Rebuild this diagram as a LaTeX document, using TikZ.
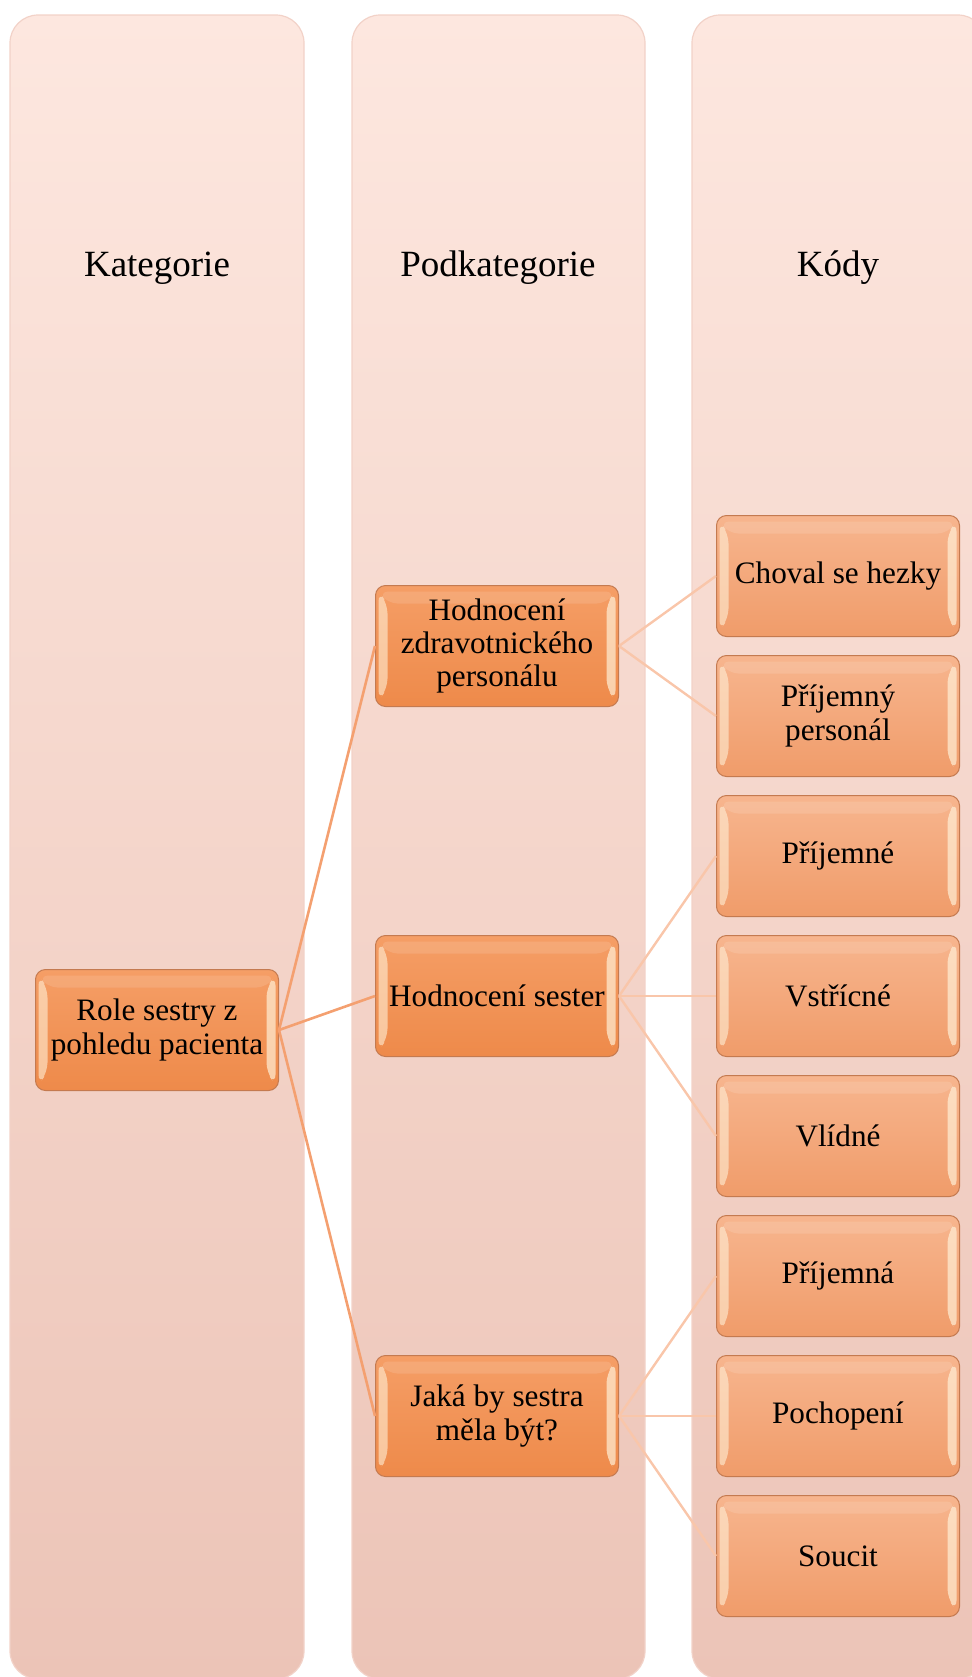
\documentclass[tikz,border=0pt]{standalone}
\usepackage{fontspec}
\setmainfont{Liberation Serif}
\definecolor{coltop}{HTML}{FDE7DF}
\definecolor{colbot}{HTML}{ECC4B7}
\definecolor{colline}{HTML}{F2D2C8}
\definecolor{boxtop}{HTML}{F59E66}
\definecolor{boxbot}{HTML}{EE8A4A}
\definecolor{codetop}{HTML}{F7B58E}
\definecolor{codebot}{HTML}{F09C6A}
\definecolor{boxline}{HTML}{C47A50}
\definecolor{shine}{HTML}{FFEFD6}
\definecolor{linkdark}{HTML}{F4A070}
\definecolor{linklight}{HTML}{F9C6AA}
\tikzset{
  column/.style={rounded corners=14pt, draw=colline, line width=0.6pt,
    top color=coltop, bottom color=colbot},
  header/.style={font=\fontsize{18.5}{22}\selectfont},
  bevel/.style={rounded corners=5pt, draw=boxline, line width=0.5pt,
    minimum width=121.5pt, minimum height=60.5pt, align=center,
    font=\fontsize{15.6}{16.7}\selectfont,
    path picture={
      \coordinate (nw) at (path picture bounding box.north west);
      \coordinate (sw) at (path picture bounding box.south west);
      \coordinate (ne) at (path picture bounding box.north east);
      \coordinate (se) at (path picture bounding box.south east);
      \fill[shine, opacity=0.6] ([shift={(1.5pt,-3pt)}]nw) -- ([shift={(6pt,-9pt)}]nw)
        -- ([shift={(6pt,9pt)}]sw) -- ([shift={(1.5pt,3pt)}]sw) -- cycle;
      \fill[shine, opacity=0.7] ([shift={(-1.5pt,-3pt)}]ne) -- ([shift={(-6pt,-9pt)}]ne)
        -- ([shift={(-6pt,9pt)}]se) -- ([shift={(-1.5pt,3pt)}]se) -- cycle;
      \fill[white, opacity=0.12] ([shift={(6pt,-9pt)}]nw) -- ([shift={(-6pt,-9pt)}]ne)
        -- ([shift={(-1.5pt,-3pt)}]ne) -- ([shift={(1.5pt,-3pt)}]nw) -- cycle;
    }},
  catbox/.style={bevel, top color=boxtop, bottom color=boxbot},
  codebox/.style={bevel, top color=codetop, bottom color=codebot},
  link/.style={linkdark, line width=1.3pt},
  sublink/.style={linklight, line width=1.2pt}
}
\begin{document}
\begin{tikzpicture}[x=0.5pt, y=-0.5pt]
  \useasboundingbox (0,0) rectangle (972,1677);
  % columns
  \path[column] (10,15) rectangle (304,1679);
  \path[column] (352,15) rectangle (645,1679);
  \path[column] (692,15) rectangle (986,1679);

  \node[header] (hcat) at (157,268) {Kategorie};
  \node[header] (hsub) at (498,268) {Podkategorie};
  \node[header] (hcode) at (838,268) {Kódy};

  % category
  \node[catbox] (cat) at (157,1030) {Role sestry z\\pohledu pacienta};

  % subcategories
  \node[catbox] (sub1) at (497,646) {Hodnocení\\zdravotnického\\personálu};
  \node[catbox] (sub2) at (497,996) {Hodnocení sester};
  \node[catbox] (sub3) at (497,1416) {Jaká by sestra\\měla být?};

  % codes
  \node[codebox] (code1) at (838,576) {Choval se hezky};
  \node[codebox] (code2) at (838,716) {Příjemný\\personál};
  \node[codebox] (code3) at (838,856) {Příjemné};
  \node[codebox] (code4) at (838,996) {Vstřícné};
  \node[codebox] (code5) at (838,1136) {Vlídné};
  \node[codebox] (code6) at (838,1276) {Příjemná};
  \node[codebox] (code7) at (838,1416) {Pochopení};
  \node[codebox] (code8) at (838,1556) {Soucit};

  \draw[link] (cat.east) -- (sub1.west);
  \draw[link] (cat.east) -- (sub2.west);
  \draw[link] (cat.east) -- (sub3.west);

  \draw[sublink] (sub1.east) -- (code1.west);
  \draw[sublink] (sub1.east) -- (code2.west);
  \draw[sublink] (sub2.east) -- (code3.west);
  \draw[sublink] (sub2.east) -- (code4.west);
  \draw[sublink] (sub2.east) -- (code5.west);
  \draw[sublink] (sub3.east) -- (code6.west);
  \draw[sublink] (sub3.east) -- (code7.west);
  \draw[sublink] (sub3.east) -- (code8.west);
\end{tikzpicture}
\end{document}
